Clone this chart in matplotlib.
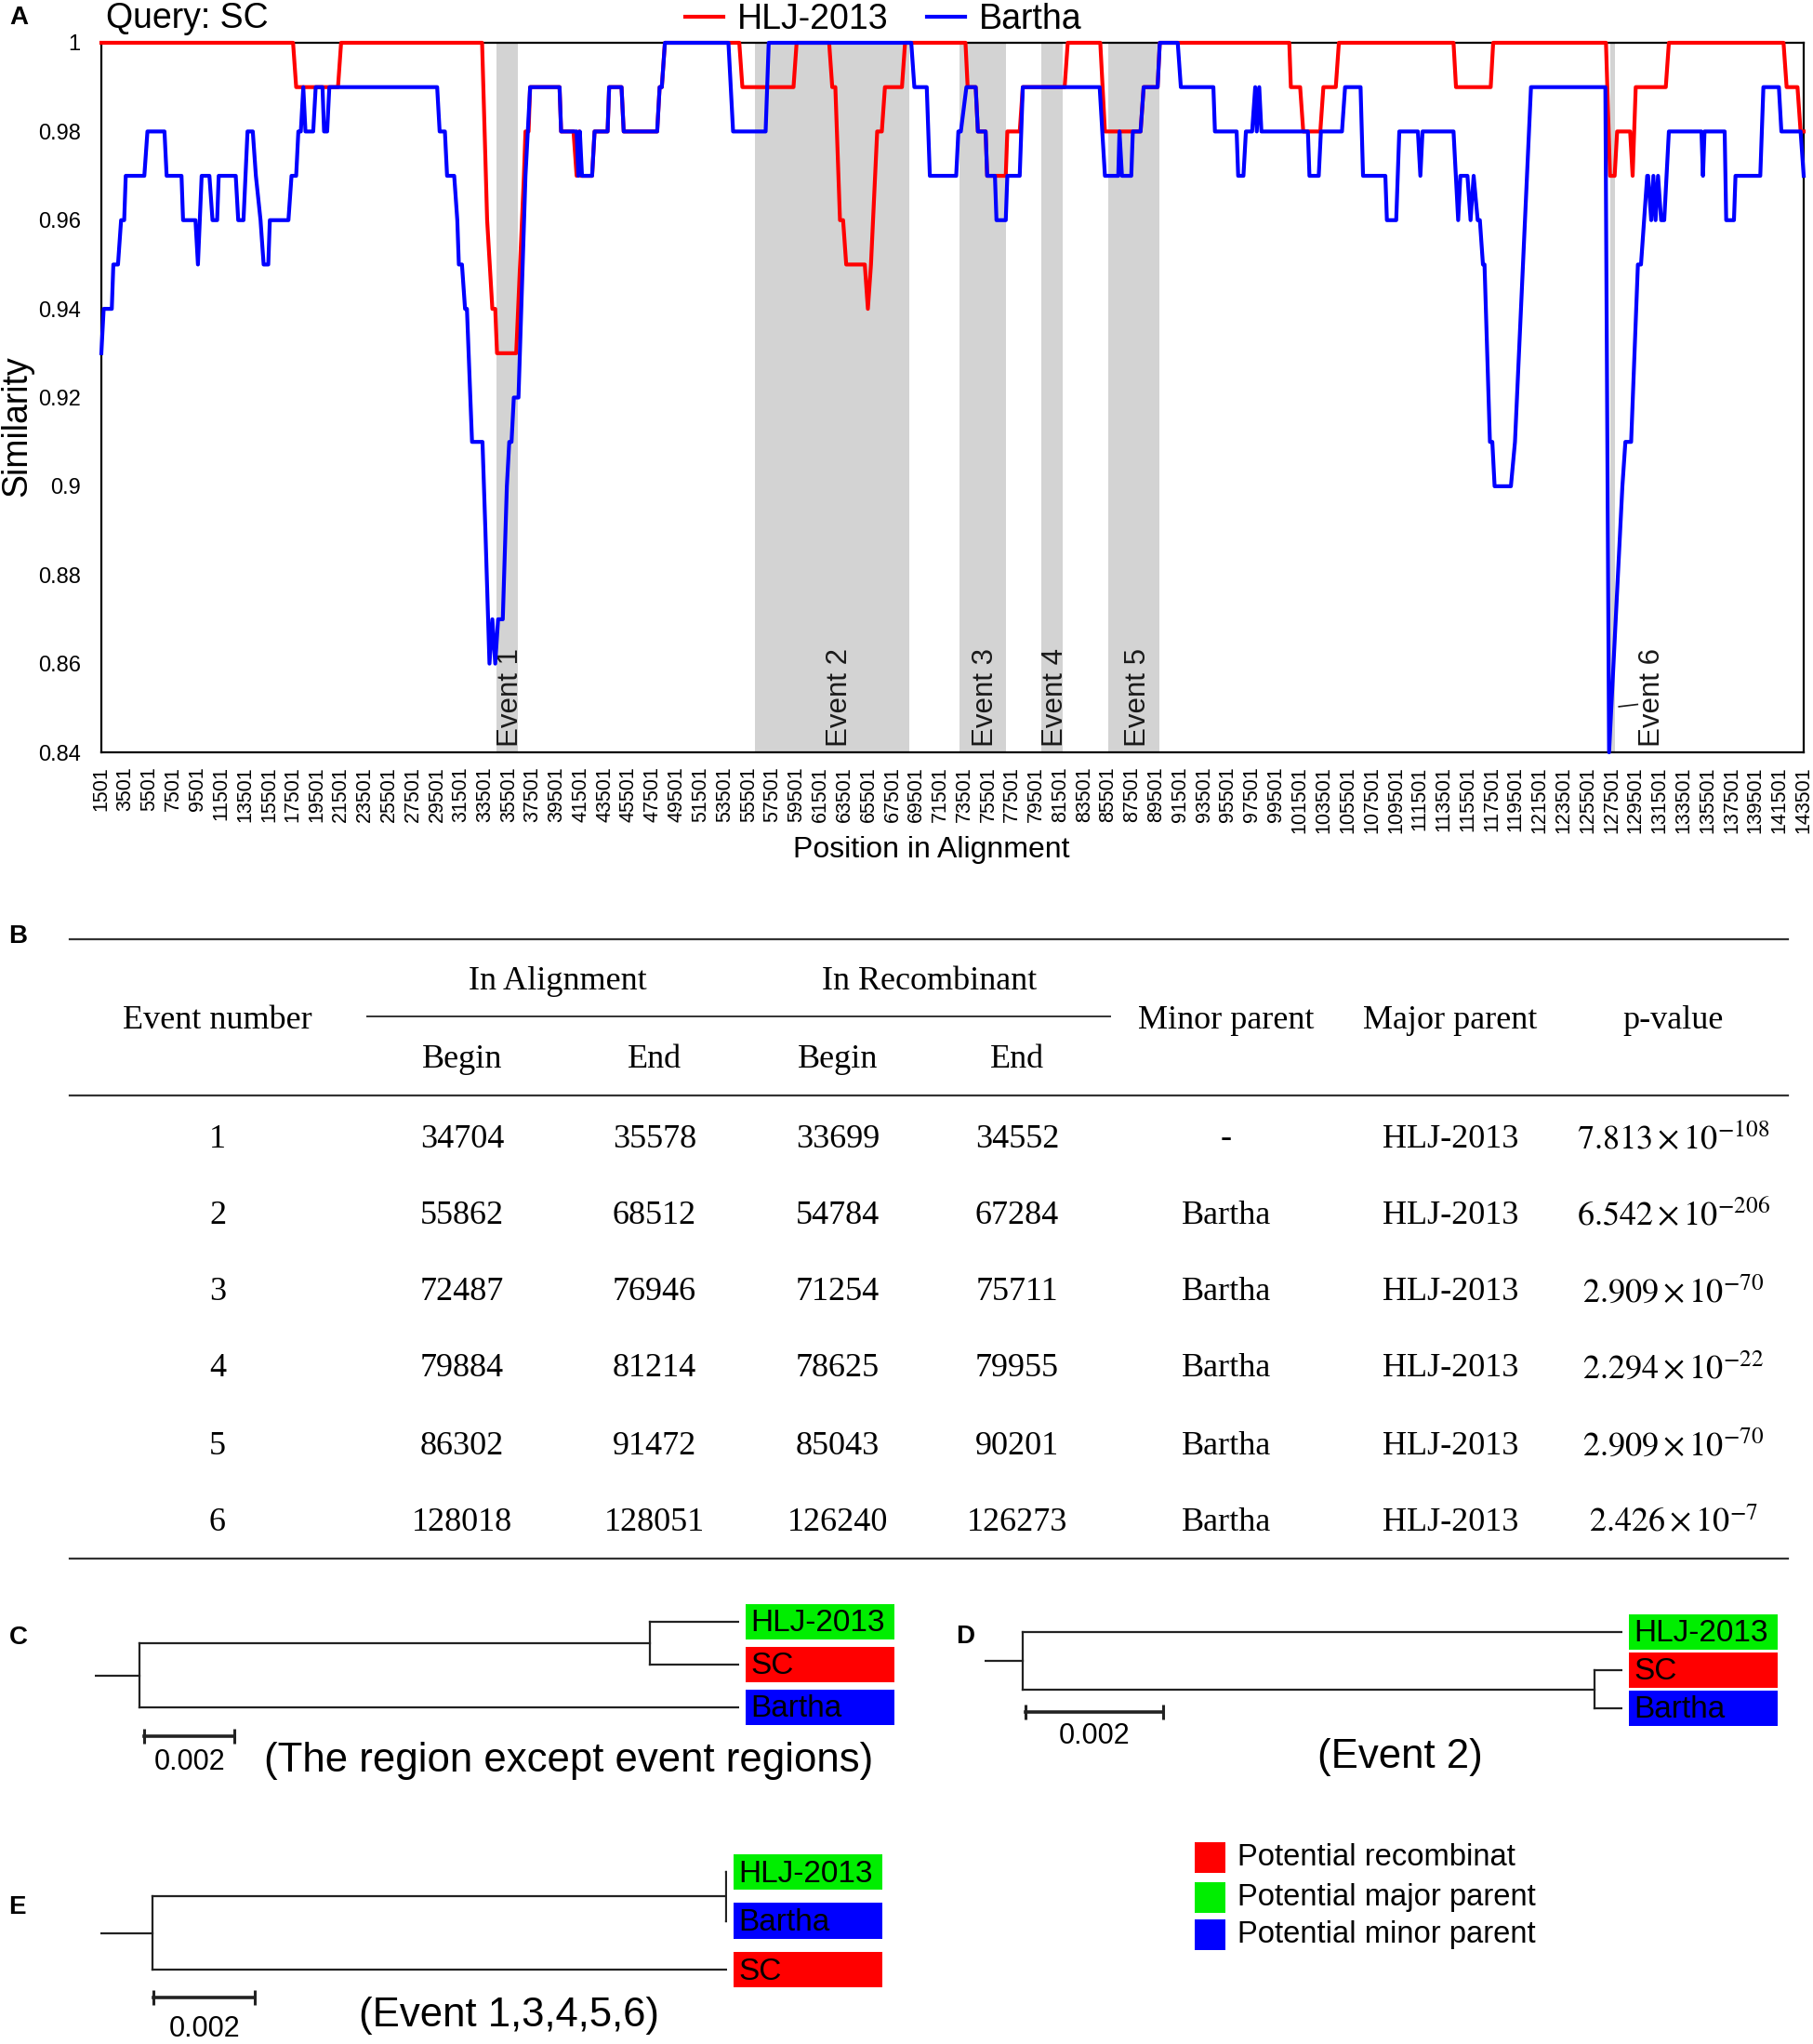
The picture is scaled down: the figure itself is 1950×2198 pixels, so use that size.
import matplotlib
matplotlib.use('Agg')
import matplotlib.pyplot as plt
from matplotlib.patches import Rectangle
from matplotlib.transforms import blended_transform_factory

plt.rcParams['font.family'] = ['Liberation Sans', 'DejaVu Sans']
plt.rcParams['mathtext.fontset'] = 'stix'

W, H = 1950, 2198
#-------------------------------------------------------------------------------
# panel A : similarity plot (query SC), (position, similarity) break points
hlj_points = [
    (1501, 1.00), (17495, 1.00), (17754, 0.99), (21244, 0.99), (21502, 1.00),
    (33264, 1.00), (33685, 0.96), (34120, 0.94), (34360, 0.94), (34510, 0.93),
    (36110, 0.93), (36754, 0.97), (36883, 0.98), (37141, 0.98), (37271, 0.99),
    (39726, 0.99), (39856, 0.98), (40890, 0.98), (41150, 0.97), (41355, 0.98),
    (41480, 0.97), (42440, 0.97), (42647, 0.98), (43733, 0.98), (43862, 0.99),
    (44896, 0.99), (45077, 0.98), (47869, 0.98), (48076, 0.99), (48257, 0.99),
    (48515, 1.00), (54720, 1.00), (54978, 0.99), (59243, 0.99), (59502, 1.00),
    (62216, 1.00), (62475, 0.99), (62734, 0.99), (63120, 0.96), (63380, 0.96),
    (63640, 0.95), (65190, 0.95), (65447, 0.94), (65706, 0.95), (66223, 0.98),
    (66611, 0.98), (66870, 0.99), (68290, 0.99), (68549, 1.00), (73590, 1.00),
    (73771, 0.99), (74443, 0.99), (74624, 0.98), (75270, 0.98), (75399, 0.97),
    (76950, 0.97), (77080, 0.98), (78114, 0.98), (78372, 0.99), (81862, 0.99),
    (82120, 1.00), (84835, 1.00), (85222, 0.98), (88195, 0.98), (88454, 0.99),
    (89617, 0.99), (89798, 1.00), (100603, 1.00), (100733, 0.99), (101508, 0.99),
    (101767, 0.98), (103189, 0.98), (103447, 0.99), (104481, 0.99), (104740, 1.00),
    (114303, 1.00), (114510, 0.99), (117405, 0.99), (117612, 1.00), (127021, 1.00),
    (127358, 0.97), (127745, 0.97), (127952, 0.98), (129038, 0.98), (129245, 0.97),
    (129503, 0.99), (132011, 0.99), (132269, 1.00), (141833, 1.00), (142092, 0.99),
    (142997, 0.99), (143256, 0.98), (143516, 0.98)]

bartha_points = [
    (1501, 0.93), (1695, 0.94), (2373, 0.94), (2502, 0.95), (2890, 0.95),
    (3149, 0.96), (3407, 0.96), (3536, 0.97), (5087, 0.97), (5346, 0.98),
    (6768, 0.98), (6948, 0.97), (8189, 0.97), (8318, 0.96), (9353, 0.96),
    (9559, 0.95), (9870, 0.97), (10516, 0.97), (10774, 0.96), (11162, 0.96),
    (11291, 0.97), (12713, 0.97), (12920, 0.96), (13359, 0.96), (13695, 0.98),
    (14135, 0.98), (14393, 0.97), (14781, 0.96), (15040, 0.95), (15427, 0.95),
    (15557, 0.96), (17108, 0.96), (17366, 0.97), (17754, 0.97), (17935, 0.98),
    (18142, 0.98), (18348, 0.99), (18529, 0.98), (19176, 0.98), (19382, 0.99),
    (19951, 0.99), (20080, 0.98), (20339, 0.98), (20520, 0.99), (29516, 0.99),
    (29723, 0.98), (30162, 0.98), (30343, 0.97), (30937, 0.97), (31196, 0.96),
    (31325, 0.95), (31584, 0.95), (31843, 0.94), (32000, 0.94), (32425, 0.91),
    (33297, 0.91), (33540, 0.89), (33880, 0.86), (34120, 0.87), (34360, 0.86),
    (34600, 0.87), (34990, 0.87), (35330, 0.90), (35530, 0.91), (35720, 0.91),
    (35910, 0.92), (36300, 0.92), (36883, 0.97), (37271, 0.99), (39726, 0.99),
    (39856, 0.98), (41148, 0.98), (41290, 0.97), (41420, 0.98), (41600, 0.97),
    (42440, 0.97), (42647, 0.98), (43733, 0.98), (43862, 0.99), (44896, 0.99),
    (45077, 0.98), (47869, 0.98), (48076, 0.99), (48257, 0.99), (48515, 1.00),
    (53815, 1.00), (54202, 0.98), (56917, 0.98), (57175, 1.00), (69066, 1.00),
    (69325, 0.99), (70359, 0.99), (70617, 0.97), (72814, 0.97), (72995, 0.98),
    (73202, 0.98), (73667, 0.99), (74443, 0.99), (74624, 0.98), (75270, 0.98),
    (75399, 0.97), (76046, 0.97), (76175, 0.96), (76950, 0.96), (77080, 0.97),
    (78114, 0.97), (78372, 0.99), (84783, 0.99), (85222, 0.97), (86334, 0.97),
    (86437, 0.98), (86644, 0.97), (87420, 0.97), (87549, 0.98), (88195, 0.98),
    (88454, 0.99), (89617, 0.99), (89798, 1.00), (91297, 1.00), (91556, 0.99),
    (94270, 0.99), (94399, 0.98), (96209, 0.98), (96338, 0.97), (96777, 0.97),
    (96984, 0.98), (97501, 0.98), (97760, 0.99), (97889, 0.98), (98096, 0.99),
    (98277, 0.98), (102155, 0.98), (102284, 0.97), (103059, 0.97), (103240, 0.98),
    (104998, 0.98), (105256, 0.99), (106548, 0.99), (106755, 0.97), (108616, 0.97),
    (108745, 0.96), (109521, 0.96), (109779, 0.98), (111330, 0.98), (111537, 0.97),
    (111718, 0.98), (114303, 0.98), (114691, 0.96), (114872, 0.97), (115466, 0.97),
    (115725, 0.96), (115983, 0.97), (116319, 0.96), (116500, 0.96), (116758, 0.95),
    (116888, 0.95), (117340, 0.91), (117540, 0.91), (117730, 0.90), (119090, 0.90),
    (119430, 0.91), (120766, 0.99), (126970, 0.99), (127280, 0.84), (128390, 0.90),
    (128640, 0.91), (129120, 0.91), (129684, 0.95), (129943, 0.95), (130201, 0.96),
    (130460, 0.97), (130537, 0.97), (130795, 0.96), (130977, 0.97), (131158, 0.96),
    (131365, 0.97), (131623, 0.96), (131881, 0.96), (132269, 0.98), (134984, 0.98),
    (135113, 0.97), (135242, 0.98), (136922, 0.98), (137051, 0.96), (137697, 0.96),
    (137826, 0.97), (139894, 0.97), (140153, 0.99), (141446, 0.99), (141653, 0.98),
    (143256, 0.98), (143516, 0.97)]
hlj_pos, hlj_sim = zip(*hlj_points)
bartha_pos, bartha_sim = zip(*bartha_points)

event_names = ['Event 1', 'Event 2', 'Event 3', 'Event 4', 'Event 5', 'Event 6']
event_start = [34440, 56012, 73125, 79923, 85481, 127360]
event_end = [36270, 68939, 76950, 81733, 89746, 127800]
event_label_pos = [35600, 63100, 75300, 81050, 88000, 130900]

xtick_pos = list(range(1501, 143502, 2000))
ytick_vals = [0.84, 0.86, 0.88, 0.90, 0.92, 0.94, 0.96, 0.98, 1.00]
ytick_labels = ['0.84', '0.86', '0.88', '0.9', '0.92', '0.94', '0.96', '0.98', '1']

# panel B : table
ev_num = [1, 2, 3, 4, 5, 6]
align_begin = [34704, 55862, 72487, 79884, 86302, 128018]
align_end = [35578, 68512, 76946, 81214, 91472, 128051]
rec_begin = [33699, 54784, 71254, 78625, 85043, 126240]
rec_end = [34552, 67284, 75711, 79955, 90201, 126273]
minor_parent = ['-', 'Bartha', 'Bartha', 'Bartha', 'Bartha', 'Bartha']
major_parent = ['HLJ-2013'] * 6
p_mant = ['7.813', '6.542', '2.909', '2.294', '2.909', '2.426']
p_exp = [-108, -206, -70, -22, -70, -7]

# panels C, D, E : trees (leaf = (name, branch length), node = ([children], branch length))
tree_c = [([('HLJ-2013', 0.00198), ('SC', 0.00198)], 0.01134), ('Bartha', 0.01332)]
tree_d = [('HLJ-2013', 0.00872), ([('SC', 0.00039), ('Bartha', 0.00039)], 0.00832)]
tree_e = [([('HLJ-2013', 0.00002), ('Bartha', 0.00002)], 0.01130), ('SC', 0.01132)]
leaf_colors = {'HLJ-2013': '#00ee00', 'SC': '#ff0000', 'Bartha': '#0000ff'}
legend_labels = ['Potential recombinat', 'Potential major parent', 'Potential minor parent']
legend_colors = ['#ff0000', '#00ee00', '#0000ff']
#-------------------------------------------------------------------------------
def px_box(x0, y0, x1, y1):
    return [x0 / W, 1 - y1 / H, (x1 - x0) / W, (y1 - y0) / H]

fig = plt.figure(figsize=(W / 100, H / 100), dpi=100)
ov = fig.add_axes([0, 0, 1, 1])
ov.set_xlim(0, W)
ov.set_ylim(H, 0)
ov.axis('off')

# ---------------- A
ax = fig.add_axes(px_box(109, 46, 1940, 809))
for s, e in zip(event_start, event_end):
    ax.axvspan(s, e, color='#d3d3d3', lw=0, zorder=0)
l1, = ax.plot(hlj_pos, hlj_sim, color='#ff0000', lw=3, clip_on=False, zorder=3, label='HLJ-2013')
l2, = ax.plot(bartha_pos, bartha_sim, color='#0000ff', lw=3, clip_on=False, zorder=4, label='Bartha')
for name, xp in zip(event_names, event_label_pos):
    ax.text(xp, 0.8412, name, rotation=90, ha='center', va='bottom', fontsize=22.5, color='#1a1a1a')
ax.plot([128100, 129650], [0.8503, 0.8508], color='#1a1a1a', lw=1.2)
ax.set_xlim(1501, 143516)
ax.set_ylim(0.84, 1.0)
ax.set_xticks(xtick_pos)
ax.set_xticklabels([str(p) for p in xtick_pos], rotation=90, fontsize=15.5)
ax.set_yticks(ytick_vals)
ax.set_yticklabels(ytick_labels, fontsize=17)
ax.tick_params(axis='x', length=0, pad=11)
ax.tick_params(axis='y', length=0, pad=16)
for sp in ax.spines.values():
    sp.set_linewidth(1.6)
ax.set_xlabel('Position in Alignment', fontsize=23, va='center')
ax.xaxis.set_label_coords((1002 - 109) / 1831, (809 - 914) / 763)
ax.set_ylabel('Similarity', fontsize=27, va='center')
ax.yaxis.set_label_coords((18 - 109) / 1831, (809 - 458) / 763)
ax.legend(handles=[l1, l2], loc='center', bbox_to_anchor=(950 / W, 1 - 21 / H),
          bbox_transform=fig.transFigure, ncol=2, frameon=False, fontsize=27,
          handlelength=1.1, handletextpad=0.4, columnspacing=1.1, borderpad=0)
ov.text(114, 20, 'Query: SC', fontsize=27, va='center', ha='left')

# ---------------- B
serif = ['Liberation Serif', 'DejaVu Serif']
tfs = 26
for yy in [1010, 1178, 1676]:
    ov.plot([75, 1923], [yy, yy], color='#333333', lw=1.6)
ov.plot([395, 1194], [1093, 1093], color='#333333', lw=1.4)
col_x = [234, 497, 704, 901, 1094, 1319, 1560, 1800]
ov.text(600, 1056, 'In Alignment', family=serif, fontsize=tfs, ha='center', va='center')
ov.text(1000, 1056, 'In Recombinant', family=serif, fontsize=tfs, ha='center', va='center')
for cx, lab in zip([col_x[0], col_x[5], col_x[6], col_x[7]],
                   ['Event number', 'Minor parent', 'Major parent', 'p-value']):
    ov.text(cx, 1098, lab, family=serif, fontsize=tfs, ha='center', va='center')
for cx, lab in zip(col_x[1:5], ['Begin', 'End', 'Begin', 'End']):
    ov.text(cx, 1140, lab, family=serif, fontsize=tfs, ha='center', va='center')
row_y = [1225, 1307, 1390, 1472, 1555, 1637]
for i, ry in enumerate(row_y):
    cells = [str(ev_num[i]), str(align_begin[i]), str(align_end[i]), str(rec_begin[i]),
             str(rec_end[i]), minor_parent[i], major_parent[i]]
    for cx, c in zip(col_x[:7], cells):
        ov.text(cx, ry, c, family=serif, fontsize=tfs, ha='center', va='center')
    ov.text(col_x[7], ry, r'$%s\times10^{%d}$' % (p_mant[i], p_exp[i]),
            fontsize=tfs, ha='center', va='center')

# ---------------- C, D, E trees
def draw_tree(ax, tree, stub, box_h, ax_w):
    leaves = []

    def place(node, x0):
        if isinstance(node[0], str):
            y = len(leaves)
            leaves.append(node[0])
            ax.plot([x0, x0 + node[1]], [y, y], color='#222222', lw=1.6)
            return y
        x1 = x0 + node[1]
        ys = [place(c, x1) for c in node[0]]
        ax.plot([x1, x1], [min(ys), max(ys)], color='#222222', lw=1.6)
        ym = (min(ys) + max(ys)) / 2
        ax.plot([x0, x1], [ym, ym], color='#222222', lw=1.6)
        return ym

    ys = [place(c, 0) for c in tree]
    ax.plot([0, 0], [min(ys), max(ys)], color='#222222', lw=1.6)
    yr = (min(ys) + max(ys)) / 2
    ax.plot([-stub, 0], [yr, yr], color='#222222', lw=1.6)
    ax.set_ylim(len(leaves) - 0.5, -0.5)
    ax.axis('off')
    tr = blended_transform_factory(ax.transAxes, ax.transData)
    for i, name in enumerate(leaves):
        ax.add_patch(Rectangle((1 + 7 / ax_w, i - box_h / 2), 160 / ax_w, box_h,
                               transform=tr, color=leaf_colors[name], clip_on=False, lw=0))
        ax.text(1 + 12 / ax_w, i + 0.04, name, transform=tr, fontsize=24, va='center', ha='left')
    return leaves

def depth(node):
    if isinstance(node[0], str):
        return node[1]
    return node[1] + max(depth(c) for c in node[0])

tree_specs = [
    # tree, stub, (x0, top leaf y, x1, leaf spacing) px, box height, scale bar (x, y, label y)
    (tree_c, 0.00099, (102, 1744.0, 795, 46.0), 0.83, (0.00011, 2.67, 3.28)),
    (tree_d, 0.00055, (1059, 1755.0, 1745, 41.0), 0.93, (0.00005, 2.10, 2.72)),
    (tree_e, 0.00103, (108, 2013.0, 782, 52.5), 0.74, (0.00002, 2.57, 3.22)),
]
for tree, stub, (x0, ytop, x1, sp), bh, (sx, sy, ly) in tree_specs:
    n = 3
    tax = fig.add_axes(px_box(x0, ytop - sp / 2, x1, ytop - sp / 2 + n * sp))
    tax.set_xlim(-stub, max(depth(c) for c in tree))
    draw_tree(tax, tree, stub, bh, x1 - x0)
    tax.plot([sx, sx + 0.002], [sy, sy], color='#222222', lw=2.6, marker='|',
             ms=12, mew=2.2, clip_on=False)
    tax.text(sx + 0.001, ly, '0.002', ha='center', va='center', fontsize=22)

ov.text(612, 1893, '(The region except event regions)', fontsize=31.5, ha='center', va='center')
ov.text(1506, 1889, '(Event 2)', fontsize=31.5, ha='center', va='center')
ov.text(547, 2167, '(Event 1,3,4,5,6)', fontsize=31.5, ha='center', va='center')

legend_y = [1997, 2040, 2080]
for lab, col, ly in zip(legend_labels, legend_colors, legend_y):
    ov.add_patch(Rectangle((1285, ly - 16.5), 33, 33, color=col, lw=0))
    ov.text(1331, ly, lab, fontsize=23.6, ha='left', va='center')

# panel letters
for letter, lx, ly in [('A', 20, 19), ('B', 19, 1007), ('C', 20, 1761), ('D', 1038, 1760), ('E', 18, 2051)]:
    ov.text(lx, ly, letter, fontsize=20, fontweight='bold', ha='center', va='center')

fig.savefig('out.png', dpi=100)
